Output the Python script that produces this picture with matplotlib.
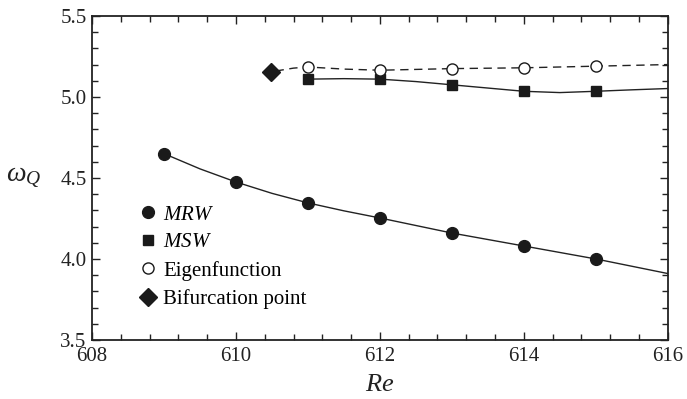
import matplotlib
matplotlib.use("Agg")
import matplotlib.pyplot as plt
from matplotlib.ticker import MultipleLocator, FormatStrFormatter

plt.rcParams["font.family"] = ["Liberation Serif", "DejaVu Serif"]
plt.rcParams["mathtext.fontset"] = "custom"
plt.rcParams["mathtext.it"] = "Liberation Serif:italic"
plt.rcParams["mathtext.rm"] = "Liberation Serif"

# MRW branch
mrw_re = [609, 610, 611, 612, 613, 614, 615]
mrw_w = [4.65, 4.475, 4.346, 4.253, 4.16, 4.08, 4.0]
mrw_curve_re = [609, 609.5, 610, 610.5, 611, 611.5, 612, 613, 614, 615, 616]
mrw_curve_w = [4.65, 4.556, 4.475, 4.405, 4.346, 4.297, 4.253, 4.16, 4.08, 4.0, 3.91]

# MSW branch
msw_re = [611, 612, 613, 614, 615]
msw_w = [5.11, 5.11, 5.075, 5.035, 5.035]
msw_curve_re = [611, 611.5, 612, 612.5, 613, 613.5, 614, 614.5, 615, 615.5, 616]
msw_curve_w = [5.11, 5.113, 5.11, 5.095, 5.075, 5.055, 5.035, 5.027, 5.035, 5.044, 5.052]

# eigenfunction prediction
eig_re = [611, 612, 613, 614, 615]
eig_w = [5.185, 5.165, 5.175, 5.18, 5.19]
eig_curve_re = [610.55, 610.8, 611, 611.5, 612, 613, 614, 615, 616]
eig_curve_w = [5.16, 5.178, 5.185, 5.172, 5.165, 5.175, 5.18, 5.19, 5.2]

# bifurcation point
bif_re = [610.48]
bif_w = [5.155]

fig = plt.figure(figsize=(6.87, 3.99), dpi=100)
ax = fig.add_axes([0.134, 0.148, 0.838, 0.812])

ink = "#222222"
ax.plot(mrw_curve_re, mrw_curve_w, color=ink, lw=1.0)
ax.plot(msw_curve_re, msw_curve_w, color=ink, lw=1.0)
ax.plot(eig_curve_re, eig_curve_w, color=ink, lw=1.0, ls=(0, (6, 4)))

ax.plot(mrw_re, mrw_w, "o", color="#1a1a1a", ms=8.5, label="$MRW$")
ax.plot(msw_re, msw_w, "s", color="#1a1a1a", ms=7, label="$MSW$")
ax.plot(eig_re, eig_w, "o", mfc="white", mec="#1a1a1a", mew=1.0, ms=8,
        label="Eigenfunction")
ax.plot(bif_re, bif_w, "D", color="#1a1a1a", ms=9, label="Bifurcation point")

ax.set_xlim(608, 616)
ax.set_ylim(3.5, 5.5)
ax.xaxis.set_major_locator(MultipleLocator(2))
ax.xaxis.set_minor_locator(MultipleLocator(0.4))
ax.yaxis.set_major_locator(MultipleLocator(0.5))
ax.yaxis.set_minor_locator(MultipleLocator(0.1))
ax.yaxis.set_major_formatter(FormatStrFormatter("%.1f"))
ax.tick_params(which="both", direction="in", top=True, right=True,
               labelsize=15, colors=ink, width=1.0)
ax.tick_params(which="major", length=6)
ax.tick_params(which="minor", length=4)
ax.tick_params(axis="x", pad=5)
ax.tick_params(axis="y", pad=4)
for s in ax.spines.values():
    s.set_linewidth(1.3)
    s.set_color(ink)

ax.set_xlabel("$Re$", fontsize=19, color=ink)
ax.xaxis.set_label_coords(0.5, -0.105)
ax.set_ylabel(r"$\omega_Q$", fontsize=20, rotation=0, color=ink, va="center")
ax.yaxis.set_label_coords(-0.118, 0.5)

ax.legend(loc="lower left", bbox_to_anchor=(0.069, 0.07), frameon=False,
          fontsize=15, handlelength=0.8, handletextpad=0.3, labelspacing=0.4,
          borderaxespad=0)

fig.savefig("out.png", dpi=100)
